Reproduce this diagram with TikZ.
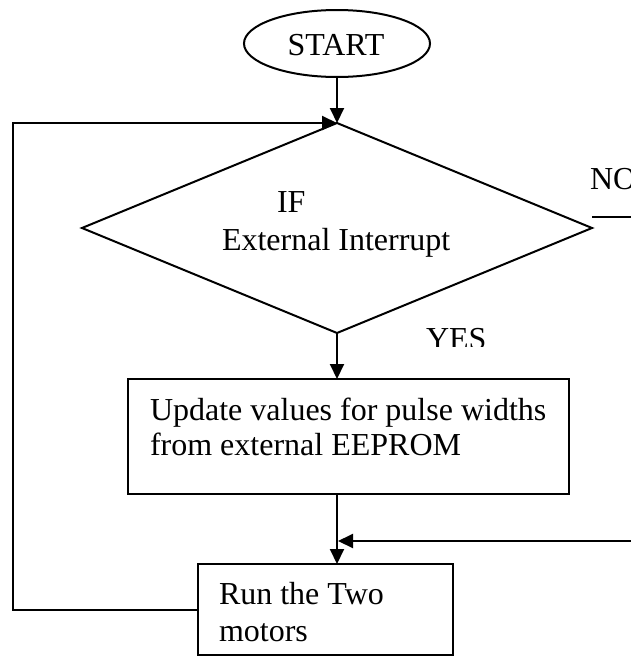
\documentclass[tikz,border=0pt]{standalone}
\usepackage{fontspec}
\setmainfont{Liberation Serif}
\usetikzlibrary{shapes.geometric,arrows.meta}
\begin{document}
\begin{tikzpicture}[x=1pt,y=-1pt,line width=2pt,
  font=\fontsize{32pt}{37pt}\selectfont,
  flowline/.style={draw,line width=2pt},
  arr/.style={flowline,-{Triangle[length=15pt,width=14pt]}},
  shapebox/.style={draw,line width=2pt,inner sep=0pt,outer sep=0pt},
  txt/.style={anchor=base west,inner sep=0pt,outer sep=0pt}]
\useasboundingbox (0,0) rectangle (630,656);

% shapes
\node[shapebox,ellipse,minimum width=186pt,minimum height=67pt] (start) at (337,43.5) {};
\node[shapebox,diamond,minimum width=510pt,minimum height=210pt] (dec) at (337,228) {};
\node[shapebox,rectangle,minimum width=441pt,minimum height=115pt] (upd) at (348.5,436.5) {};
\node[shapebox,rectangle,minimum width=255pt,minimum height=91pt] (run) at (325.5,609.5) {};

% texts
\node[anchor=base,inner sep=0pt] (starttxt) at (336,55) {START};
\node[txt] (iftxt) at (277,212) {IF};
\node[txt] (exttxt) at (222,250) {External Interrupt};
\node[txt] (notxt) at (590,189) {NO};
\begin{scope}
  \clip (400,300) rectangle (520,346);
  \node[txt] (yestxt) at (426,349) {YES};
\end{scope}
\node[txt] (upd1) at (150,420) {Update values for pulse widths};
\node[txt] (upd2) at (150,455) {from external EEPROM};
\node[txt] (run1) at (219,604) {Run the Two};
\node[txt] (run2) at (219,641) {motors};

% connectors
\coordinate (nostart) at (592,217);
\coordinate (noend) at (632,217);
\coordinate (feed) at (632,541);
\draw[arr] (start.south) -- (dec.north);
\draw[arr] (dec.south) -- (dec.south |- upd.north);
\draw[arr] (dec.south |- upd.south) -- (dec.south |- run.north);
\draw[arr,shorten >=1pt] (feed) -- (feed -| dec.south);
\draw[flowline] (nostart) -- (noend);
\draw[arr] (run.west) -- ++(-185,0) |- (dec.north);
\end{tikzpicture}
\end{document}
